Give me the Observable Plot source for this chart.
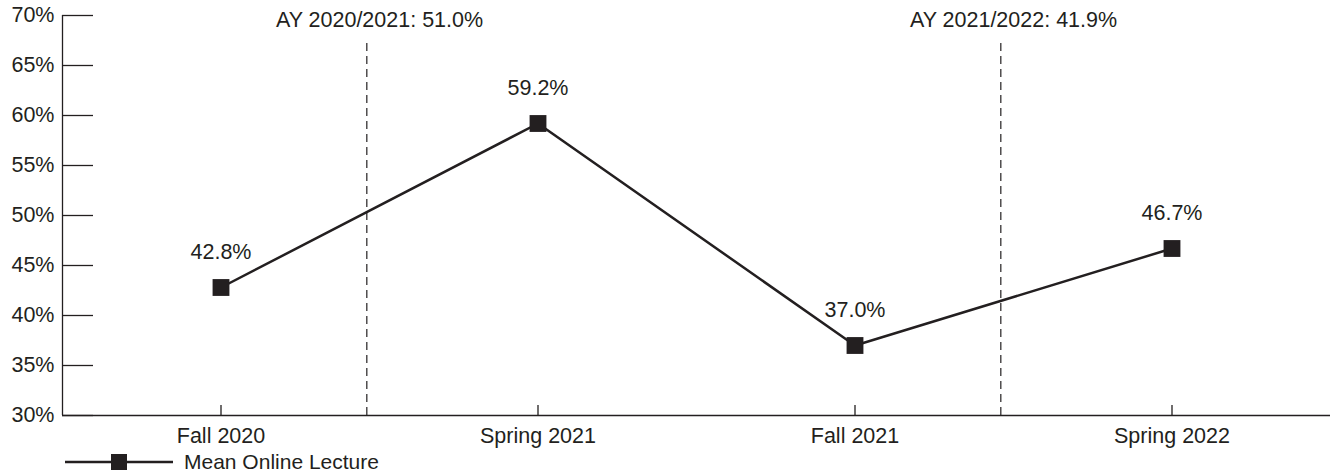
<!DOCTYPE html>
<html>
<head>
<meta charset="utf-8">
<script src="https://cdn.jsdelivr.net/npm/d3@7"></script>
<script src="https://cdn.jsdelivr.net/npm/@observablehq/plot@0.6"></script>
<style>
  html, body { margin: 0; padding: 0; background: #fff; }
  body { width: 1338px; height: 473px; overflow: hidden; font-family: "Liberation Sans", Arial, sans-serif; color: #231f20; }
  #legend { display: flex; align-items: center; height: 22px; margin-left: 65px; font-size: 21px; }
  #legend span { margin-left: 9px; }
</style>
</head>
<body>
<div id="chart"></div>
<div id="legend"></div>
<script>
// Data
const terms = ["Fall 2020", "Spring 2021", "Fall 2021", "Spring 2022"];
const meanOnlineLecture = [42.8, 59.2, 37.0, 46.7];
const yearLabels = ["AY 2020/2021: 51.0%", "AY 2021/2022: 41.9%"];
const yearLabelPos = [0.5, 2.5];      // between terms (index space)
const yearDividerPos = [0.46, 2.46];  // dashed dividers (index space)
const yTicks = [30, 35, 40, 45, 50, 55, 60, 65, 70];
const seriesName = "Mean Online Lecture";

const ink = "#231f20";
const FS = 21.5;
const W = 1338, H = 451;
const mL = 62, mR = 8, mT = 15, mB = 36;
const innerW = W - mL - mR, innerH = H - mT - mB;

const rows = terms.map((t, i) => ({i, term: t, v: meanOnlineLecture[i]}));

const chart = Plot.plot({
  width: W,
  height: H,
  marginLeft: mL, marginRight: mR, marginTop: mT, marginBottom: mB,
  style: {fontFamily: '"Liberation Sans", Arial, sans-serif', fontSize: FS + "px", color: ink, background: "#fff", overflow: "visible"},
  x: {type: "linear", domain: [-0.5, 3.5]},
  y: {domain: [30, 70]},
  marks: [
    // y axis ticks (inward)
    Plot.ruleY(yTicks, {y: d => d, stroke: ink, strokeWidth: 1.3, insetRight: innerW - 31}),
    Plot.axisY({ticks: yTicks, tickSize: 0, tickPadding: 8, tickFormat: d => d + "%", fontSize: FS, fill: ink, label: null}),
    // x axis ticks (inward)
    Plot.ruleX([0, 1, 2, 3], {x: d => d, stroke: ink, strokeWidth: 1.3, insetTop: innerH - 10}),
    Plot.axisX({ticks: [0, 1, 2, 3], tickSize: 0, tickPadding: 12, tickFormat: d => terms[d], fontSize: FS, fill: ink, label: null}),
    // axis lines
    Plot.ruleX([-0.5], {stroke: ink, strokeWidth: 1.3}),
    Plot.ruleY([30], {stroke: ink, strokeWidth: 1.3}),
    // dashed year dividers
    Plot.ruleX(yearDividerPos, {x: d => d, stroke: ink, strokeWidth: 1.2, strokeDasharray: "8,5", insetTop: 28}),
    Plot.text(yearLabels, {x: (d, i) => yearLabelPos[i], frameAnchor: "top", lineAnchor: "top", dy: -4, text: d => d, fontSize: FS, fill: ink}),
    // series
    Plot.line(rows, {x: "i", y: "v", stroke: ink, strokeWidth: 2.5}),
    Plot.dot(rows, {x: "i", y: "v", symbol: "square", r: 9.5, fill: ink, stroke: "none"}),
    Plot.text(rows, {x: "i", y: "v", text: d => d.v.toFixed(1) + "%", dy: -35, fontSize: FS, fill: ink})
  ]
});
document.getElementById("chart").append(chart);

// Legend
const lg = d3.create("svg").attr("width", 110).attr("height", 20);
lg.append("line").attr("x1", 0).attr("x2", 108).attr("y1", 10).attr("y2", 10).attr("stroke", ink).attr("stroke-width", 2.5);
lg.append("rect").attr("x", 46).attr("y", 2).attr("width", 16).attr("height", 16).attr("fill", ink);
const legend = document.getElementById("legend");
legend.append(lg.node());
const sp = document.createElement("span");
sp.textContent = seriesName;
legend.append(sp);
</script>
</body>
</html>
